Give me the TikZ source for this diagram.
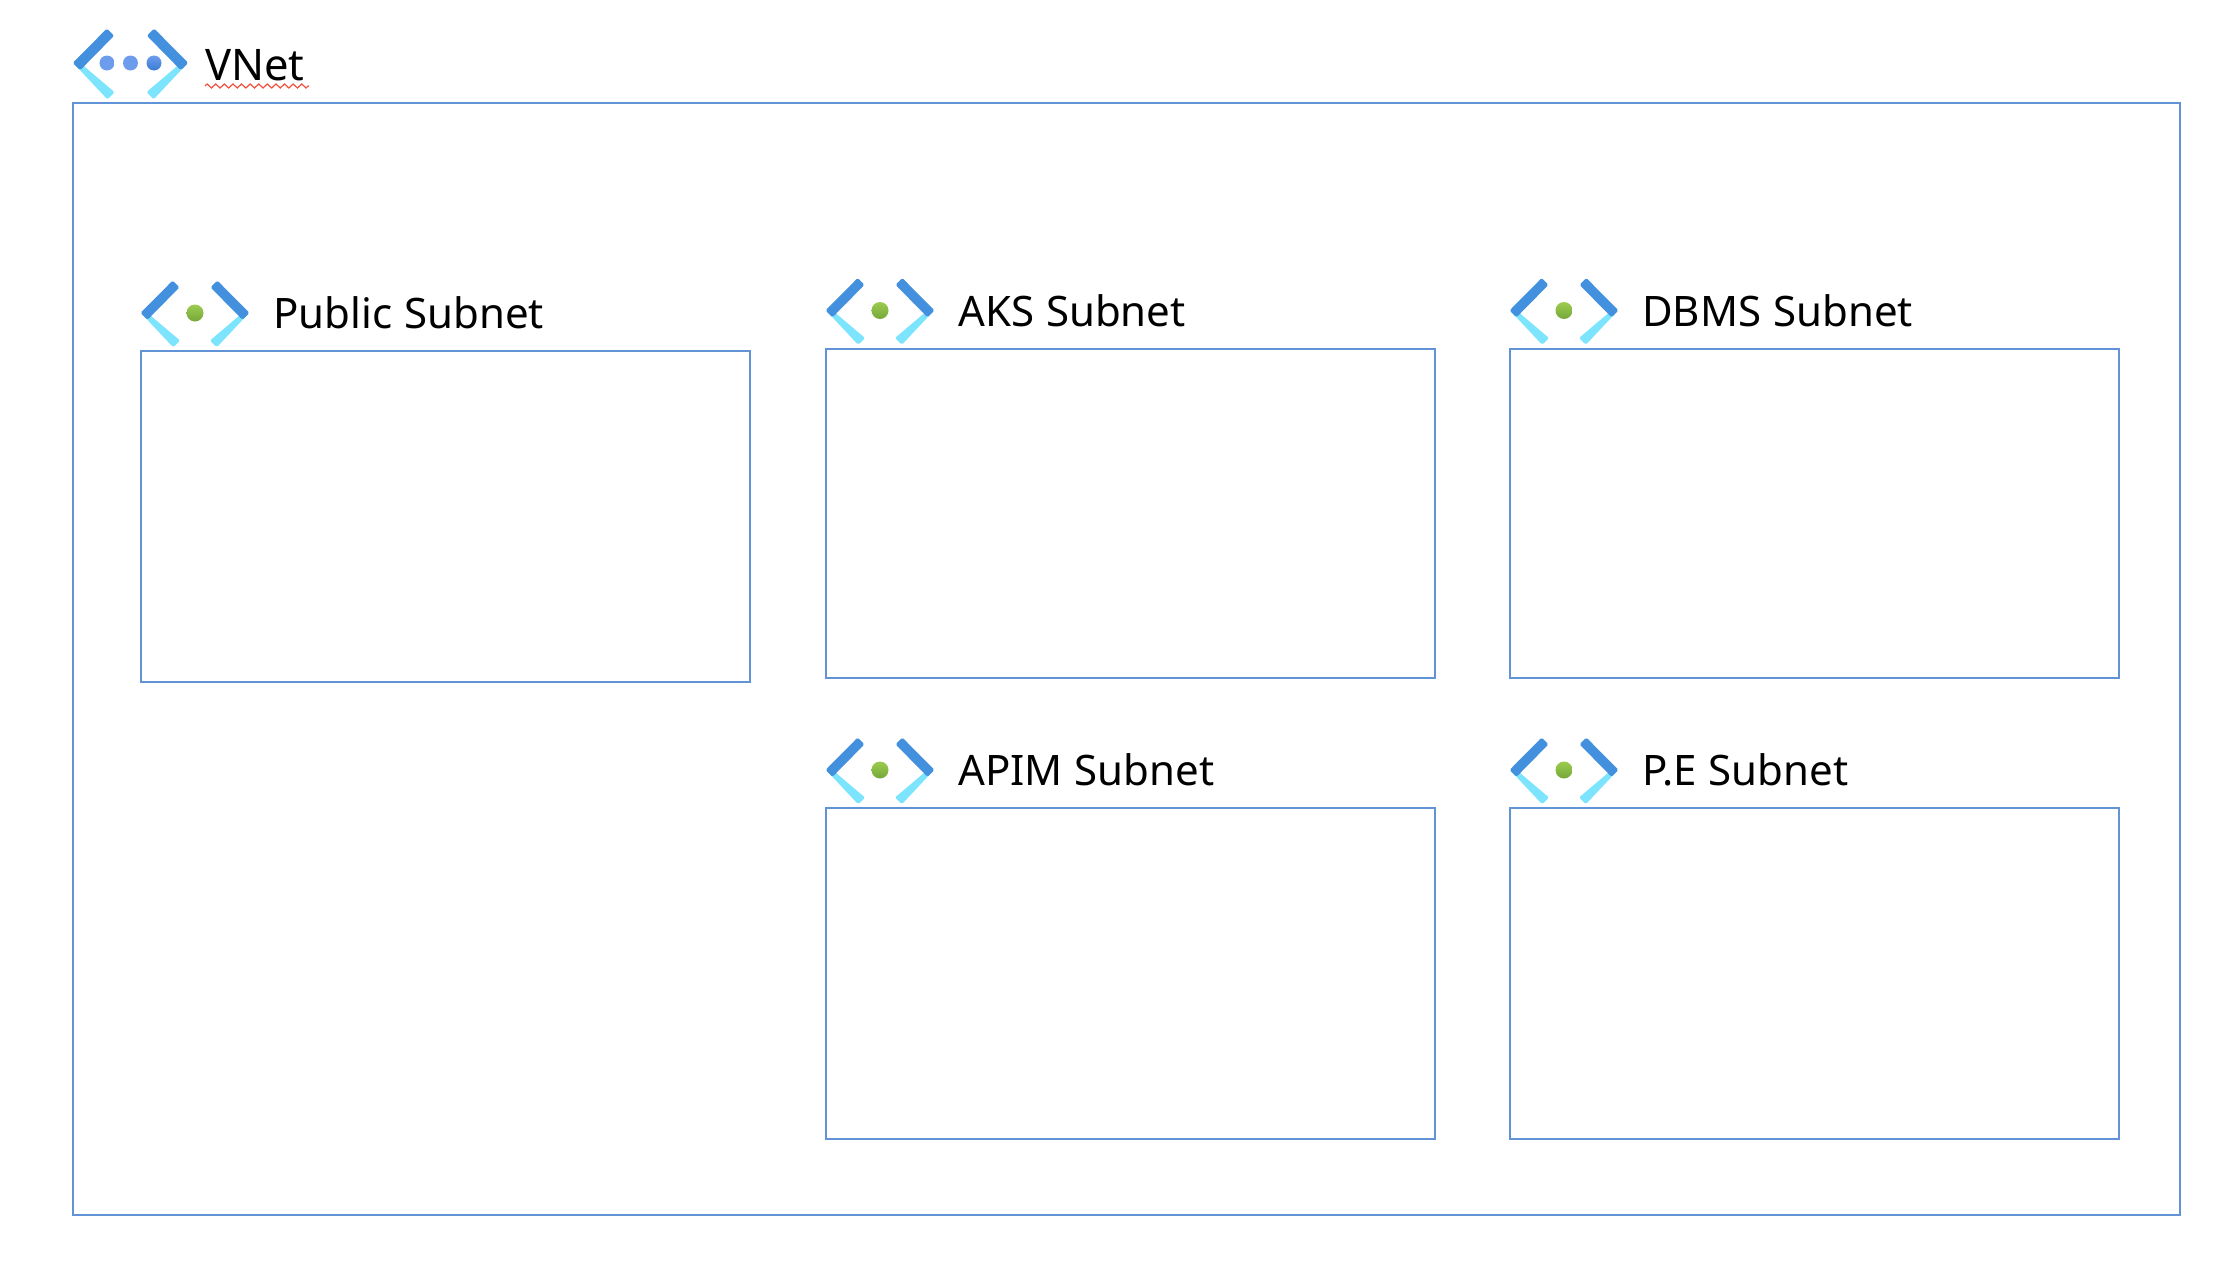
\documentclass[tikz,border=0pt]{standalone}
\usepackage{fontspec}
\setmainfont{Noto Sans}[WordSpace=1.1]
\usetikzlibrary{decorations.pathmorphing}
\definecolor{boxline}{HTML}{6193D6}
\definecolor{armdark}{HTML}{4390DE}
\definecolor{armlight}{HTML}{7CE4FD}
\definecolor{dotblue}{HTML}{6E9CEC}
\definecolor{dotdeep}{HTML}{3A7BD5}
\definecolor{dotgreen}{HTML}{9CCB4F}
\definecolor{dotmoss}{HTML}{76A83A}
\definecolor{squiggle}{HTML}{F0503C}
\tikzset{
  netbox/.style={draw=boxline, line width=2pt},
  netlabel/.style={anchor=base west, inner sep=0pt, font=\fontsize{42}{50}\selectfont},
  armup/.style={fill=armdark, rounded corners=1.5pt},
  armdown/.style={fill=armlight, rounded corners=1.5pt}
}
\newcommand{\netarms}{
  \foreach \flip in {1,-1} {
    \begin{scope}[xscale=\flip]
      \path[armdown] (-51,-3) -- (-15,27.5) -- (-21.8,34.3) -- (-54,0) -- cycle;
      \path[armup] (-54.5,0) -- (-22.3,-32.5) -- (-15.5,-25.7) -- (-47.5,6.8) -- cycle;
    \end{scope}
  }
}
\begin{document}
\begin{tikzpicture}[x=1pt, y=-1pt]
  \useasboundingbox (0,0) rectangle (2230,1266);

  % outer network
  \draw[netbox] (73,103) rectangle (2180,1215);
  \begin{scope}[shift={(130.5,63)}, scale=1.06]
    \netarms
  \end{scope}
  \shade[top color=dotblue, bottom color=dotblue] (107,63) circle (7.5);
  \shade[top color=dotblue, bottom color=dotblue] (130.5,63) circle (7.5);
  \shade[top color=dotblue, bottom color=dotdeep] (154,63) circle (7.5);
  \node[netlabel, font=\fontsize{43.5}{50}\selectfont] (vnet) at (205,80.5) {VNet};
  \draw[squiggle, line width=1.2pt, decorate, decoration={zigzag, segment length=8.6, amplitude=2}] (205,86) -- (309,86);

  % subnets
  \foreach \bname/\bx/\by/\bh/\btext in {public/141/351/331/Public Subnet, aks/826/348.5/329.5/AKS Subnet, dbms/1510/348.5/329.5/DBMS Subnet, apim/826/808/331/APIM Subnet, pe/1510/808/331/P.E Subnet} {
    \draw[netbox] (\bx,\by) rectangle ++(608.5,\bh);
    \begin{scope}[shift={(\bx+54,\by-38)}]
      \netarms
      \shade[top color=dotgreen, bottom color=dotmoss] (0,0) circle (8.5);
    \end{scope}
    \node[netlabel] (\bname) at (\bx+132,\by-22.5) {\btext};
  }
\end{tikzpicture}
\end{document}
